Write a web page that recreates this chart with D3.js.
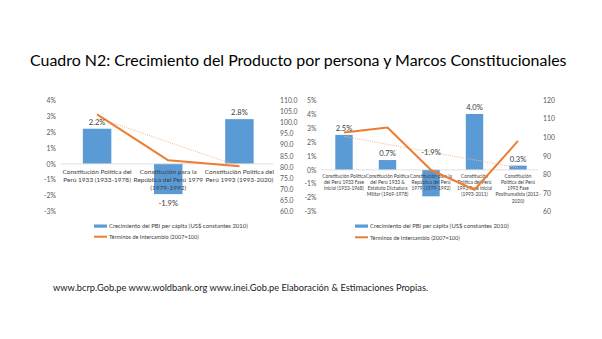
<!DOCTYPE html>
<html><head><meta charset="utf-8">
<script src="https://cdn.jsdelivr.net/npm/d3@7"></script>
<style>html,body{margin:0;padding:0;background:#fff;}svg{display:block;font-family:Lato,"Open Sans",sans-serif;}</style>
</head><body>
<script>
// ---------- DATA ----------
const title = "Cuadro N2: Crecimiento del Producto por persona y Marcos Constitucionales";
const footer = "www.bcrp.Gob.pe  www.woldbank.org  www.inei.Gob.pe  Elaboración & Estimaciones Propias.";
const seriesNames = ["Crecimiento del PBI per cápita (US$ constantes 2010)", "Términos de Intercambio (2007=100)"];

const leftCategories = [
  "Constitución Política del\nPerú 1933 (1933-1978)",
  "Constitución para la\nRepública del Perú 1979\n(1979-1992)",
  "Constitución Política del\nPerú 1993 (1993-2020)"
];
const leftGrowth = [2.2, -1.9, 2.8];
const leftTerms = [103.6, 83.0, 80.3];
const leftTrend = [102.1, 80.3];
const leftPctTicks = [4, 3, 2, 1, 0, -1, -2, -3];
const leftIdxTicks = [110, 105, 100, 95, 90, 85, 80, 75, 70, 65, 60];

const rightCategories = [
  "Constitución Política\ndel Perú 1933 Fase\ninicial (1933-1968)",
  "Constitución Política\ndel Perú 1933 &\nEstatuto Dictadura\nMilitar (1969-1978)",
  "Constitución para la\nRepública del Perú\n1979 (1979-1992)",
  "Constitución\nPolítica del Perú\n1993 Fase inicial\n(1993-2011)",
  "Constitución\nPolítica del Perú\n1993 Fase\nPosthumalista (2012-\n2020)"
];
const rightGrowth = [2.5, 0.7, -1.9, 4.0, 0.3];
const rightTerms = [102.6, 105.2, 82.4, 71.8, 98.0];
const rightTrend = [100.4, 83.6];
const rightPctTicks = [5, 4, 3, 2, 1, 0, -1, -2, -3];
const rightIdxTicks = [120, 110, 100, 90, 80, 70, 60];

// ---------- DRAW ----------
const W = 602, H = 339;
const svg = d3.select("body").append("svg").attr("width", W).attr("height", H);
svg.append("rect").attr("width", W).attr("height", H).attr("fill", "#fff");

const BLUE = "#5B9BD5", ORANGE = "#ED7D31", GREY = "#595959";

// scale font size so the text's natural width matches the target width
function fitFont(sel, width, base) {
  sel.attr("font-size", base);
  const w = sel.node().getComputedTextLength();
  if (w > 0) sel.attr("font-size", base * width / w);
}

svg.append("text").attr("x", 30).attr("y", 66).attr("fill", "#000")
  .text(title).call(fitFont, 537, 17);

svg.append("text").attr("x", 53).attr("y", 290.5).attr("fill", "#222")
  .text(footer).call(fitFont, 376, 8.5);

function drawChart(cfg) {
  const g = svg.append("g");
  const x = d3.scalePoint().domain(cfg.cats).range([cfg.x0, cfg.x1]).padding(0.5);
  const bw = x.step() * 0.4;
  const yL = d3.scaleLinear().domain(cfg.pctDomain).range([211.7, 100]);
  const yR = d3.scaleLinear().domain(cfg.idxDomain).range([211.7, 100]);

  const axL = d3.axisLeft(yL).tickValues(cfg.pctTicks).tickFormat(d => d + "%").tickSize(0).tickPadding(0);
  const gL = g.append("g").attr("transform", `translate(${cfg.axLx},0)`).call(axL);
  gL.select(".domain").remove();
  gL.selectAll("text").attr("font-size", cfg.tickFont).attr("fill", GREY).attr("font-family", "Lato");

  const axR = d3.axisRight(yR).tickValues(cfg.idxTicks).tickFormat(cfg.idxFmt).tickSize(0).tickPadding(0);
  const gR = g.append("g").attr("transform", `translate(${cfg.axRx},0)`).call(axR);
  gR.select(".domain").remove();
  gR.selectAll("text").attr("font-size", cfg.tickFont).attr("fill", GREY).attr("font-family", "Lato");

  g.selectAll("rect.bar").data(cfg.growth).join("rect").attr("class", "bar")
    .attr("x", (d, i) => x(cfg.cats[i]) - bw / 2)
    .attr("width", bw)
    .attr("y", d => yL(Math.max(0, d)))
    .attr("height", d => Math.abs(yL(d) - yL(0)))
    .attr("fill", BLUE);

  g.append("line").attr("x1", cfg.x0 - 1).attr("x2", cfg.x1 - 2).attr("y1", yL(0)).attr("y2", yL(0))
    .attr("stroke", "#D9D9D9").attr("stroke-width", 0.8);

  cfg.cats.forEach((c, i) => {
    const t = g.append("text").attr("text-anchor", "middle").attr("font-size", cfg.catFont).attr("fill", "#404040");
    c.split("\n").forEach((ln, j) => {
      t.append("tspan").attr("x", x(c)).attr("y", cfg.catY + j * cfg.catLH).text(ln);
    });
  });

  const first = cfg.cats[0], last = cfg.cats[cfg.cats.length - 1];
  g.append("line").attr("x1", x(first)).attr("x2", x(last))
    .attr("y1", yR(cfg.trend[0])).attr("y2", yR(cfg.trend[1]))
    .attr("stroke", "#F2B98F").attr("stroke-width", 1).attr("stroke-dasharray", "1,1.2");

  const line = d3.line().x((d, i) => x(cfg.cats[i])).y(d => yR(d));
  g.append("path").datum(cfg.terms).attr("d", line).attr("fill", "none")
    .attr("stroke", ORANGE).attr("stroke-width", 2).attr("stroke-linejoin", "round");

  cfg.growth.forEach((d, i) => {
    let yy;
    if (d >= 0) yy = yL(d) - 4;
    else yy = cfg.negAbove ? yL(0) - 15 : yL(d) + 11.5;
    g.append("text").attr("x", x(cfg.cats[i])).attr("y", yy).attr("text-anchor", "middle")
      .attr("font-size", 7.6).attr("fill", "#404040").text(d.toFixed(1) + "%");
  });

  g.append("rect").attr("x", cfg.legX).attr("y", 224.5).attr("width", 13).attr("height", 3.2).attr("fill", BLUE);
  g.append("text").attr("x", cfg.legX + 15).attr("y", 228.3).attr("fill", "#404040")
    .text(seriesNames[0]).call(fitFont, 139, 6.5);
  g.append("line").attr("x1", cfg.legX).attr("x2", cfg.legX + 13).attr("y1", cfg.legY2).attr("y2", cfg.legY2)
    .attr("stroke", ORANGE).attr("stroke-width", 2);
  g.append("text").attr("x", cfg.legX + 15).attr("y", cfg.legY2 + 2.3).attr("fill", "#404040")
    .text(seriesNames[1]).call(fitFont, 90, 6.5);
}

drawChart({
  cats: leftCategories, growth: leftGrowth, terms: leftTerms, trend: leftTrend,
  x0: 61.5, x1: 275, pctDomain: [-3, 4], idxDomain: [60, 110],
  pctTicks: leftPctTicks, idxTicks: leftIdxTicks, idxFmt: d3.format(".1f"),
  axLx: 56, axRx: 280, tickFont: 6.8, catFont: 6.5, catY: 174, catLH: 8.2,
  negAbove: false, legX: 94, legY2: 236.7
});

drawChart({
  cats: rightCategories, growth: rightGrowth, terms: rightTerms, trend: rightTrend,
  x0: 322.25, x1: 539.75, pctDomain: [-3, 5], idxDomain: [60, 120],
  pctTicks: rightPctTicks, idxTicks: rightIdxTicks, idxFmt: d3.format("d"),
  axLx: 316.5, axRx: 543, tickFont: 6.8, catFont: 4.8, catY: 177.7, catLH: 6.25,
  negAbove: true, legX: 355, legY2: 237.3
});
</script>
</body></html>
